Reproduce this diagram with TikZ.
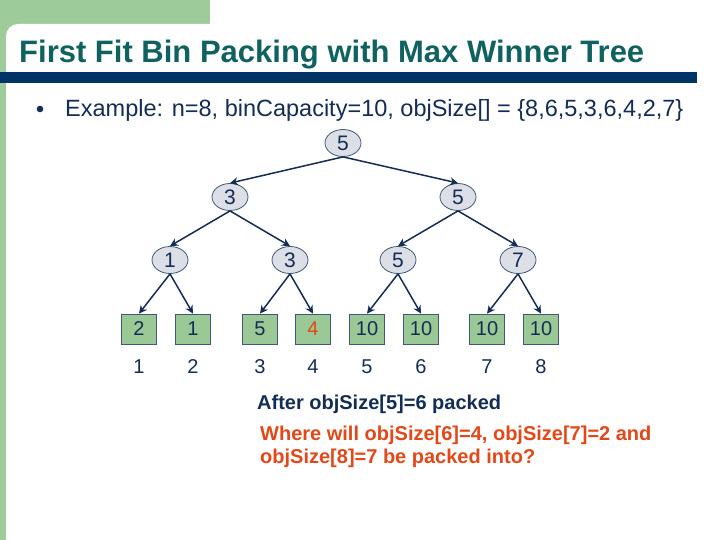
\documentclass[tikz,border=0pt]{standalone}
\usepackage{fontspec}
\setmainfont{Liberation Sans}
\usetikzlibrary{shapes.geometric,arrows.meta}
\definecolor{gbar}{RGB}{158,203,154}
\definecolor{titlec}{RGB}{16,98,96}
\definecolor{bluebar}{RGB}{0,51,102}
\definecolor{navy}{RGB}{20,45,85}
\definecolor{efill}{RGB}{220,223,230}
\definecolor{leafg}{RGB}{154,201,150}
\definecolor{redc}{RGB}{226,72,24}
\tikzset{
  tnode/.style={ellipse,draw=navy!80,line width=0.8pt,fill=efill,minimum width=36pt,minimum height=27pt,inner sep=0pt,text=navy,font=\fontsize{21}{21}\selectfont},
  leafbox/.style={rectangle,draw=navy!80,line width=0.8pt,fill=leafg,minimum width=35pt,minimum height=30pt,inner sep=0pt,text=navy,font=\fontsize{20}{20}\selectfont},
  idx/.style={text=navy,font=\fontsize{20}{20}\selectfont,inner sep=0pt},
  arr/.style={draw=navy,line width=1.5pt,-{Stealth[length=8pt,width=8pt]}},
}
\begin{document}
\begin{tikzpicture}[x=1pt,y=-1pt]
\useasboundingbox (0,0) rectangle (720,540);
% background decorations
\fill[gbar] (0,0) rectangle (210,40);
\fill[gbar] (0,0) rectangle (6,540);
\fill[white] (6,24) [rounded corners=12pt] -- (6,560) -- (740,560) -- (740,24) -- cycle;
\fill[bluebar] (0,72) rectangle (697,83);
% title
\node[anchor=base west,inner sep=0pt,text=titlec,font=\bfseries\fontsize{31}{31}\selectfont] (title) at (19,63) {First Fit Bin Packing with Max Winner Tree};
% bullet
\fill[navy] (40,109) circle (3.3);
\node[anchor=base west,inner sep=0pt,text=navy,font=\fontsize{23.5}{23.5}\selectfont] (ex) at (65,117) {Example: n=8, binCapacity=10, objSize[] = \{8,6,5,3,6,4,2,7\}};
% tree
\node[tnode] (r) at (343,143) {5};
\node[tnode] (a) at (230,197) {3};
\node[tnode] (b) at (458,197) {5};
\node[tnode] (a1) at (170,260) {1};
\node[tnode] (a2) at (290,260) {3};
\node[tnode] (b1) at (398,260) {5};
\node[tnode] (b2) at (518,260) {7};
\node[leafbox] (l1) at (139,329) {2};
\node[leafbox] (l2) at (193,329) {1};
\node[leafbox] (l3) at (260,329) {5};
\node[leafbox,text=redc] (l4) at (313,329) {4};
\node[leafbox] (l5) at (367,329) {10};
\node[leafbox] (l6) at (421,329) {10};
\node[leafbox] (l7) at (487,329) {10};
\node[leafbox] (l8) at (541,329) {10};
\draw[arr] (r.south) -- (a.north);
\draw[arr] (r.south) -- (b.north);
\draw[arr] (a.south) -- (a1.north);
\draw[arr] (a.south) -- (a2.north);
\draw[arr] (b.south) -- (b1.north);
\draw[arr] (b.south) -- (b2.north);
\draw[arr] (a1.south) -- (l1.north);
\draw[arr] (a1.south) -- (l2.north);
\draw[arr] (a2.south) -- (l3.north);
\draw[arr] (a2.south) -- (l4.north);
\draw[arr] (b1.south) -- (l5.north);
\draw[arr] (b1.south) -- (l6.north);
\draw[arr] (b2.south) -- (l7.north);
\draw[arr] (b2.south) -- (l8.north);
% indices
\foreach \n/\x in {1/139,2/193,3/260,4/313,5/367,6/421,7/487,8/541}
  \node[idx] (i\n) at (\x,367) {\n};
% bottom text
\node[anchor=base west,inner sep=0pt,text=navy,font=\bfseries\fontsize{20}{20}\selectfont] (after) at (257,409) {After objSize[5]=6 packed};
\node[anchor=base west,inner sep=0pt,text=redc,font=\bfseries\fontsize{20}{20}\selectfont] (q1) at (260,440) {Where will objSize[6]=4, objSize[7]=2 and};
\node[anchor=base west,inner sep=0pt,text=redc,font=\bfseries\fontsize{20}{20}\selectfont] (q2) at (260,463) {objSize[8]=7 be packed into?};
\end{tikzpicture}
\end{document}
